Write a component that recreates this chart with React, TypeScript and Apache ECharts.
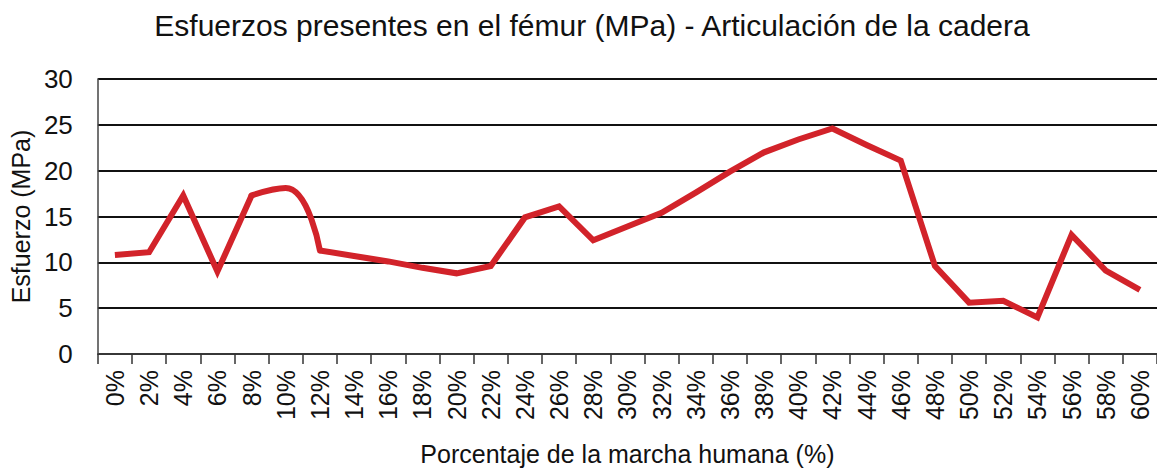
import React, { useEffect, useRef } from "react";
import * as echarts from "echarts";

const chartTitle = "Esfuerzos presentes en el fémur (MPa) - Articulación de la cadera";
const xAxisTitle = "Porcentaje de la marcha humana (%)";
const yAxisTitle = "Esfuerzo (MPa)";

const categories = [
  "0%", "2%", "4%", "6%", "8%", "10%", "12%", "14%", "16%", "18%", "20%",
  "22%", "24%", "26%", "28%", "30%", "32%", "34%", "36%", "38%", "40%",
  "42%", "44%", "46%", "48%", "50%", "52%", "54%", "56%", "58%", "60%",
];

const stress = [
  10.8, 11.1, 17.3, 9.0, 17.3, 18.1, 11.3, 10.7, 10.1, 9.4, 8.8,
  9.6, 14.9, 16.1, 12.4, 13.9, 15.4, 17.6, 19.9, 22.0, 23.4,
  24.6, 22.8, 21.1, 9.6, 5.6, 5.8, 4.0, 13.0, 9.1, 7.0,
];

// indices of the rounded stretch of the curve (8% .. 12%)
const curvedFrom = 4;
const curvedTo = 6;

const yTicks = { min: 0, max: 30, interval: 5 };

const FONT = "'Liberation Sans', Arial, Helvetica, sans-serif";
const TEXT = "#111111";
const RED = "#d2232a";

export default function App() {
  const ref = useRef<HTMLDivElement>(null);

  useEffect(() => {
    if (!ref.current) return;
    const chart = echarts.init(ref.current, null, { renderer: "svg" });

    const straight = stress.map((v, i) => (i > curvedFrom && i < curvedTo ? null : v));
    const curved = stress.map((v, i) => (i >= curvedFrom && i <= curvedTo ? v : null));

    chart.setOption({
      animation: false,
      backgroundColor: "#ffffff",
      textStyle: { fontFamily: FONT, color: TEXT },
      title: {
        text: chartTitle,
        left: 587,
        textAlign: "center",
        top: 5,
        padding: 5,
        textStyle: { fontFamily: FONT, fontSize: 30, fontWeight: "normal", color: TEXT },
      },
      grid: { left: 97, right: 0, top: 79, bottom: 110, containLabel: false },
      xAxis: {
        type: "category",
        data: categories,
        boundaryGap: true,
        name: xAxisTitle,
        nameLocation: "middle",
        nameGap: 87,
        nameTextStyle: { fontFamily: FONT, fontSize: 25, color: TEXT },
        axisLine: { show: true, lineStyle: { color: "#444", width: 1.5 } },
        axisTick: { show: true, length: 10, alignWithLabel: false, lineStyle: { color: "#333", width: 1.5 } },
        axisLabel: {
          interval: 0,
          rotate: 90,
          margin: 16,
          fontFamily: FONT,
          fontSize: 25,
          color: TEXT,
        },
        splitLine: { show: false },
      },
      yAxis: {
        type: "value",
        min: yTicks.min,
        max: yTicks.max,
        interval: yTicks.interval,
        name: yAxisTitle,
        nameLocation: "middle",
        nameRotate: 90,
        nameGap: 60,
        nameTextStyle: { fontFamily: FONT, fontSize: 25, color: TEXT },
        axisLine: { show: true, lineStyle: { color: "#444", width: 1.5 } },
        axisTick: { show: false },
        axisLabel: { margin: 25, fontFamily: FONT, fontSize: 26, color: TEXT },
        splitLine: { show: true, lineStyle: { color: "#111111", width: 2 } },
      },
      series: [
        {
          type: "line",
          data: straight,
          showSymbol: false,
          connectNulls: false,
          lineStyle: { color: RED, width: 6, join: "miter", cap: "butt" },
          itemStyle: { color: RED },
          z: 3,
        },
        {
          type: "line",
          data: curved,
          smooth: 0.5,
          showSymbol: false,
          connectNulls: false,
          lineStyle: { color: RED, width: 6, join: "round", cap: "round" },
          itemStyle: { color: RED },
          z: 3,
        },
      ],
    });

    return () => chart.dispose();
  }, []);

  return (
    <div
      ref={ref}
      style={{ position: "fixed", left: 0, top: 0, width: 1157, height: 471, background: "#fff" }}
    />
  );
}
